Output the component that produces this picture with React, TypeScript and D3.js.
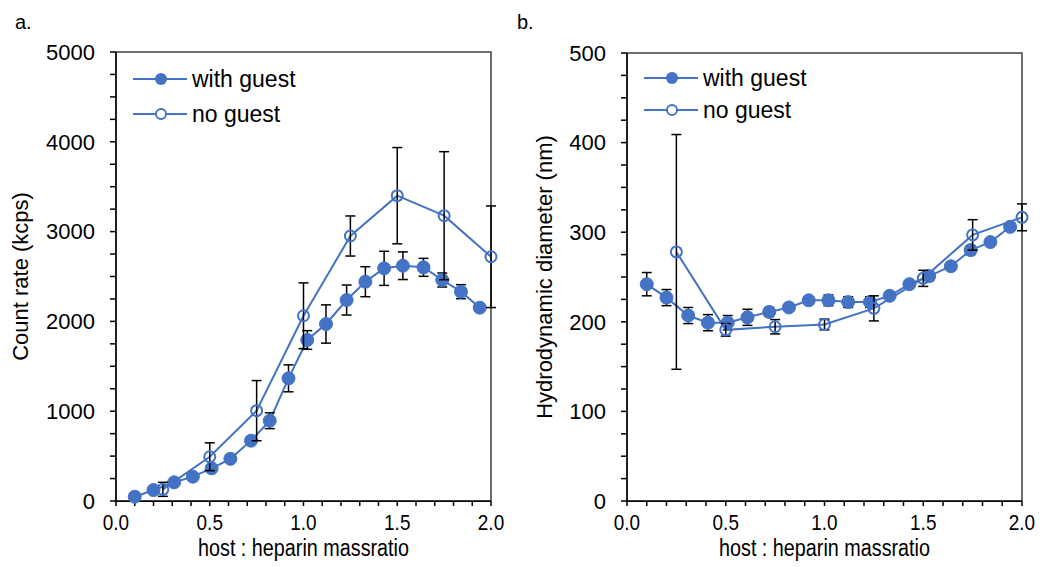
import React from "react";
import * as d3 from "d3";

// ---------- data ----------
const xWithGuest = [0.10, 0.20, 0.31, 0.41, 0.51, 0.61, 0.72, 0.82, 0.92, 1.02, 1.12, 1.23, 1.33, 1.43, 1.53, 1.64, 1.74, 1.84, 1.94];
const xNoGuest = [0.25, 0.5, 0.75, 1.0, 1.25, 1.5, 1.75, 2.0];

const countWith = [48, 122, 208, 271, 364, 470, 672, 894, 1366, 1793, 1971, 2238, 2442, 2591, 2620, 2602, 2461, 2331, 2153];
const countWithErr = [10, 20, 15, 15, 40, 20, 30, 88, 150, 104, 213, 167, 167, 190, 154, 100, 78, 78, 20];
const countNo = [130, 493, 1006, 2063, 2951, 3400, 3177, 2720];
const countNoErr = [78, 155, 335, 366, 223, 536, 713, 566];

const diamWith = [242, 227, 207, 199, 199, 205, 211, 216, 224, 224, 222, 222, 229, 242, 251, 262, 280, 289, 306];
const diamWithErr = [13, 9, 9, 9, 8, 9, 5, 3, 4, 6, 6, 6, 3, 3, 5, 4, 5, 3, 4];
const diamNo = [278, 191, 194.5, 197, 215, 248.5, 297, 316.6];
const diamNoErr = [131, 7, 8, 6, 14, 9, 17, 15];

const xTicks = [0.0, 0.5, 1.0, 1.5, 2.0];
const countTicks = [0, 1000, 2000, 3000, 4000, 5000];
const diamTicks = [0, 100, 200, 300, 400, 500];

const seriesNames = ["with guest", "no guest"];
const xTitle = "host : heparin massratio";

const BLUE = "#4472C4";
const FONT = "'Liberation Sans', Arial, sans-serif";

type PanelProps = {
  label: string;
  labelX: number;
  left: number;
  right: number;
  top: number;
  bottom: number;
  yMax: number;
  yTicks: number[];
  yMinorStep: number;
  yTitle: string;
  yTitleX: number;
  withY: number[];
  withErr: number[];
  noY: number[];
  noErr: number[];
  legendX: number;
  legendY: number[];
};

function Panel(p: PanelProps) {
  const x = d3.scaleLinear().domain([0, 2]).range([p.left, p.right]);
  const y = d3.scaleLinear().domain([0, p.yMax]).range([p.bottom, p.top]);
  const line = d3
    .line<[number, number]>()
    .x((d) => x(d[0]))
    .y((d) => y(d[1]));
  const withPts: [number, number][] = xWithGuest.map((v, i) => [v, p.withY[i]]);
  const noPts: [number, number][] = xNoGuest.map((v, i) => [v, p.noY[i]]);
  const xMinor = d3.range(0, 2.0001, 0.1);
  const yMinor = d3.range(0, p.yMax + 0.0001, p.yMinorStep);
  const cap = 5;
  const errBars = (xs: number[], ys: number[], es: number[], key: string) =>
    xs.map((xv, i) => {
      const cx = x(xv);
      const y1 = y(ys[i] + es[i]);
      const y2 = y(ys[i] - es[i]);
      return (
        <g key={key + i} stroke="#000" strokeWidth={1.5}>
          <line x1={cx} x2={cx} y1={y1} y2={y2} />
          <line x1={cx - cap} x2={cx + cap} y1={y1} y2={y1} />
          <line x1={cx - cap} x2={cx + cap} y1={y2} y2={y2} />
        </g>
      );
    });
  const midY = (p.top + p.bottom) / 2;
  return (
    <g>
      <text x={p.labelX} y={29} fontSize={20} fontFamily={FONT} fill="#000">
        {p.label}
      </text>
      {/* frame */}
      <path
        d={`M${p.left},${p.top}H${p.right}V${p.bottom}`}
        fill="none"
        stroke="#3f3f3f"
        strokeWidth={1.5}
      />
      {/* axes */}
      <line x1={p.left} x2={p.right} y1={p.bottom} y2={p.bottom} stroke="#000" strokeWidth={1.75} />
      <line x1={p.left} x2={p.left} y1={p.top} y2={p.bottom} stroke="#000" strokeWidth={1.75} />
      {xMinor.map((v, i) => (
        <line key={"xm" + i} x1={x(v)} x2={x(v)} y1={p.bottom} y2={p.bottom + 5} stroke="#000" strokeWidth={1.5} />
      ))}
      {yMinor.map((v, i) => (
        <line key={"ym" + i} x1={p.left - 6} x2={p.left} y1={y(v)} y2={y(v)} stroke="#000" strokeWidth={1.5} />
      ))}
      {p.yTicks.map((v) => (
        <text
          key={"yt" + v}
          x={p.left - 21}
          y={y(v)}
          dy="0.35em"
          textAnchor="end"
          fontSize={22}
          fontFamily={FONT}
          fill="#000"
        >
          {v}
        </text>
      ))}
      {xTicks.map((v) => (
        <text
          key={"xt" + v}
          transform={`translate(${x(v)},530) scale(0.86,1)`}
          textAnchor="middle"
          fontSize={22}
          fontFamily={FONT}
          fill="#000"
        >
          {v.toFixed(1)}
        </text>
      ))}
      <text
        transform={`translate(${(p.left + p.right) / 2},556) scale(0.86,1)`}
        textAnchor="middle"
        fontSize={23}
        fontFamily={FONT}
        fill="#000"
      >
        {xTitle}
      </text>
      <text
        transform={`translate(${p.yTitleX},${midY}) rotate(-90)`}
        textAnchor="middle"
        fontSize={22}
        fontFamily={FONT}
        fill="#000"
      >
        {p.yTitle}
      </text>
      {/* with guest series */}
      <path d={line(withPts) || ""} fill="none" stroke={BLUE} strokeWidth={2} />
      {errBars(xWithGuest, p.withY, p.withErr, "we")}
      {withPts.map((d, i) => (
        <circle key={"wp" + i} cx={x(d[0])} cy={y(d[1])} r={6.5} fill={BLUE} stroke={BLUE} strokeWidth={1} />
      ))}
      {/* no guest series */}
      <path d={line(noPts) || ""} fill="none" stroke={BLUE} strokeWidth={2} />
      {errBars(xNoGuest, p.noY, p.noErr, "ne")}
      {noPts.map((d, i) => (
        <circle key={"np" + i} cx={x(d[0])} cy={y(d[1])} r={5.5} fill="none" stroke={BLUE} strokeWidth={2} />
      ))}
      {/* legend */}
      {seriesNames.map((name, i) => (
        <g key={"lg" + i}>
          <line
            x1={p.legendX}
            x2={p.legendX + 54}
            y1={p.legendY[i]}
            y2={p.legendY[i]}
            stroke={BLUE}
            strokeWidth={2}
          />
          {i === 0 ? (
            <circle cx={p.legendX + 28} cy={p.legendY[i]} r={6} fill={BLUE} />
          ) : (
            <circle cx={p.legendX + 28} cy={p.legendY[i]} r={5} fill="#fff" stroke={BLUE} strokeWidth={2} />
          )}
          <text
            x={p.legendX + 59}
            y={p.legendY[i]}
            dy="0.35em"
            fontSize={23}
            fontFamily={FONT}
            fill="#000"
          >
            {name}
          </text>
        </g>
      ))}
    </g>
  );
}

export default function App() {
  return (
    <svg
      width={1040}
      height={567}
      style={{ position: "absolute", left: 0, top: 0, background: "#fff" }}
    >
      <rect width={1040} height={567} fill="#fff" />
      <Panel
        label="a."
        labelX={15}
        left={116}
        right={491}
        top={52}
        bottom={501}
        yMax={5000}
        yTicks={countTicks}
        yMinorStep={250}
        yTitle="Count rate (kcps)"
        yTitleX={28}
        withY={countWith}
        withErr={countWithErr}
        noY={countNo}
        noErr={countNoErr}
        legendX={133}
        legendY={[79, 114]}
      />
      <Panel
        label="b."
        labelX={517}
        left={627}
        right={1022}
        top={53}
        bottom={501}
        yMax={500}
        yTicks={diamTicks}
        yMinorStep={25}
        yTitle="Hydrodynamic diameter (nm)"
        yTitleX={552}
        withY={diamWith}
        withErr={diamWithErr}
        noY={diamNo}
        noErr={diamNoErr}
        legendX={644}
        legendY={[78, 110]}
      />
    </svg>
  );
}
